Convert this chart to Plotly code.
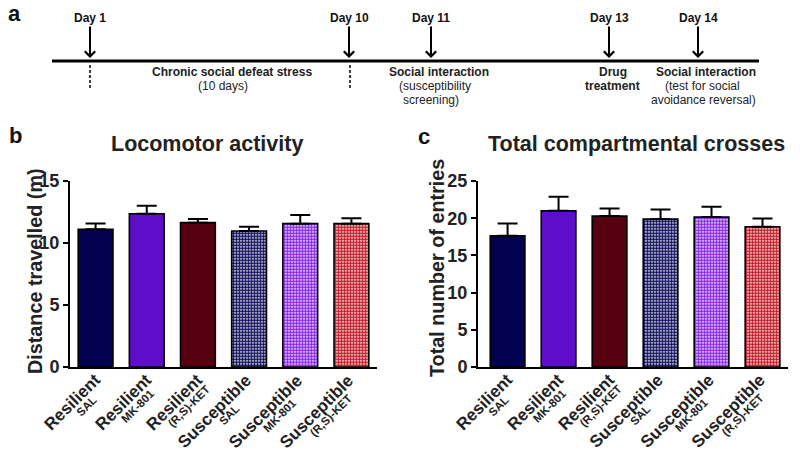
import plotly.graph_objects as go

# ---------------- data ----------------
main_labels = ["Resilient", "Resilient", "Resilient", "Susceptible", "Susceptible", "Susceptible"]
sub_labels = ["SAL", "MK-801", "(R,S)-KET", "SAL", "MK-801", "(R,S)-KET"]
loco_mean = [11.1, 12.36, 11.64, 10.97, 11.56, 11.56]
loco_sem = [0.48, 0.64, 0.30, 0.34, 0.70, 0.43]
cross_mean = [17.64, 20.99, 20.28, 19.88, 20.15, 18.85]
cross_sem = [1.66, 1.88, 1.02, 1.30, 1.38, 1.12]

day_labels = ["Day 1", "Day 10", "Day 11", "Day 13", "Day 14"]

# ---------------- style ----------------
W, H = 800, 459
FONT = "Liberation Sans, Arial, Helvetica, sans-serif"
solid_colors = ["#02024f", "#5e0ec9", "#570012", "#14145e", "#8a2be8", "#c4202c"]
pattern_shapes = ["", "", "", ".", ".", "."]

def px(x):
    return x / W

def py(y):
    return 1 - y / H

cats = [f"{m} {s}" for m, s in zip(main_labels, sub_labels)]

fig = go.Figure()

def bar_trace(means, sems, xa, ya):
    return go.Bar(
        x=cats, y=means, xaxis=xa, yaxis=ya,
        marker=dict(
            color=solid_colors,
            line=dict(color="black", width=1.6),
            pattern=dict(shape=pattern_shapes, fgcolor=solid_colors, bgcolor="white",
                         size=3, solidity=0.75, fillmode="replace"),
        ),
        error_y=dict(type="data", symmetric=False, array=sems, arrayminus=[0] * len(sems),
                     color="black", thickness=2, width=10),
        showlegend=False, hoverinfo="skip",
    )

fig.add_trace(bar_trace(loco_mean, loco_sem, "x", "y"))
fig.add_trace(bar_trace(cross_mean, cross_sem, "x2", "y2"))

ydom = [py(367), py(181)]
xcommon = dict(type="category", showline=True, linewidth=2, linecolor="black", ticks="",
               showticklabels=False, showgrid=False, zeroline=False, fixedrange=True,
               automargin=False)
ycommon = dict(showline=True, linewidth=2, linecolor="black", ticks="outside", ticklen=5,
               tickwidth=2, tickcolor="black", showgrid=False, zeroline=False, dtick=5,
               automargin=False, fixedrange=True,
               tickfont=dict(family=FONT, size=18, color="#222", weight="bold"), domain=ydom)

fig.update_layout(
    width=W, height=H, margin=dict(l=0, r=0, t=0, b=0, autoexpand=False),
    paper_bgcolor="white", plot_bgcolor="white", bargap=0.32,
    xaxis=dict(domain=[px(70), px(377)], range=[-0.5, 5.5], anchor="y", **xcommon),
    yaxis=dict(range=[0, 15], anchor="x", **ycommon),
    xaxis2=dict(domain=[px(478), px(788)], range=[-0.58, 5.5], anchor="y2", **xcommon),
    yaxis2=dict(range=[0, 25], anchor="x2", **ycommon),
)

ann = []
shapes = []

def text(x, y, t, size=12, bold=False, angle=0, color="#222"):
    ann.append(dict(x=px(x), y=py(y), xref="paper", yref="paper", text=t, showarrow=False,
                    xanchor="center", yanchor="middle", textangle=angle,
                    font=dict(family=FONT, size=size, color=color,
                              weight="bold" if bold else "normal")))

# rotated category labels (two lines each), placed on the category axes
main_off = {"Resilient": (-23.5, 402.5), "Susceptible": (-34.5, 411.7)}
for xa in ["x", "x2"]:
    for cat, m, s in zip(cats, main_labels, sub_labels):
        dx, yy = main_off[m]
        ann.append(dict(x=cat, xref=xa, y=py(yy), yref="paper", text=m, showarrow=False,
                        xanchor="center", yanchor="middle", textangle=-45, xshift=dx,
                        font=dict(family=FONT, size=17, color="#222", weight="bold")))
        ann.append(dict(x=cat, xref=xa, y=py(yy + 3.5), yref="paper", text=s, showarrow=False,
                        xanchor="center", yanchor="middle", textangle=-45, xshift=dx + 14.5,
                        font=dict(family=FONT, size=11.5, color="#222", weight="bold")))

# panel letters
text(14, 13, "a", size=22, bold=True, color="#111")
text(15, 135, "b", size=22, bold=True, color="#111")
text(424, 136, "c", size=22, bold=True, color="#111")

# panel titles
text(207, 144, "Locomotor activity", size=21.5, bold=True)
text(636, 144, "Total compartmental crosses", size=21.5, bold=True)

# y-axis titles
text(35, 271, "Distance travelled (m)", size=19.8, bold=True, angle=-90)
text(437, 268, "Total number of entries", size=19.8, bold=True, angle=-90)

# ---------------- timeline ----------------
line_y = 61
shapes.append(dict(type="line", xref="paper", yref="paper", x0=px(52), x1=px(759),
                   y0=py(line_y), y1=py(line_y), line=dict(color="black", width=3)))
day_x = [90, 349, 431, 609, 698]
for dx, lab in zip(day_x, day_labels):
    ann.append(dict(x=px(dx), y=py(58), xref="paper", yref="paper", text=lab,
                    showarrow=True, arrowhead=4, arrowsize=1, arrowwidth=2, arrowcolor="black",
                    ax=0, ay=-40, standoff=0,
                    font=dict(family=FONT, size=12, color="#111", weight="bold")))
for dx in [90, 350]:
    shapes.append(dict(type="line", xref="paper", yref="paper", x0=px(dx), x1=px(dx),
                       y0=py(65), y1=py(88), line=dict(color="black", width=1.5, dash="3px,2px")))

text(232, 72, "Chronic social defeat stress", size=12, bold=True)
text(223, 86, "(10 days)", size=12)
text(439, 72, "Social interaction", size=12, bold=True)
text(435, 86, "(susceptibility", size=12)
text(431, 100, "screening)", size=12)
text(613, 72, "Drug", size=12, bold=True)
text(612, 86, "treatment", size=12, bold=True)
text(706, 72, "Social interaction", size=12, bold=True)
text(702, 86, "(test for social", size=12)
text(703, 100, "avoidance reversal)", size=12)

fig.update_layout(annotations=ann, shapes=shapes)
fig.write_html("out.html", config={"displayModeBar": False, "staticPlot": False},
               post_script="document.body.style.margin='0px';document.body.style.overflow='hidden';")
